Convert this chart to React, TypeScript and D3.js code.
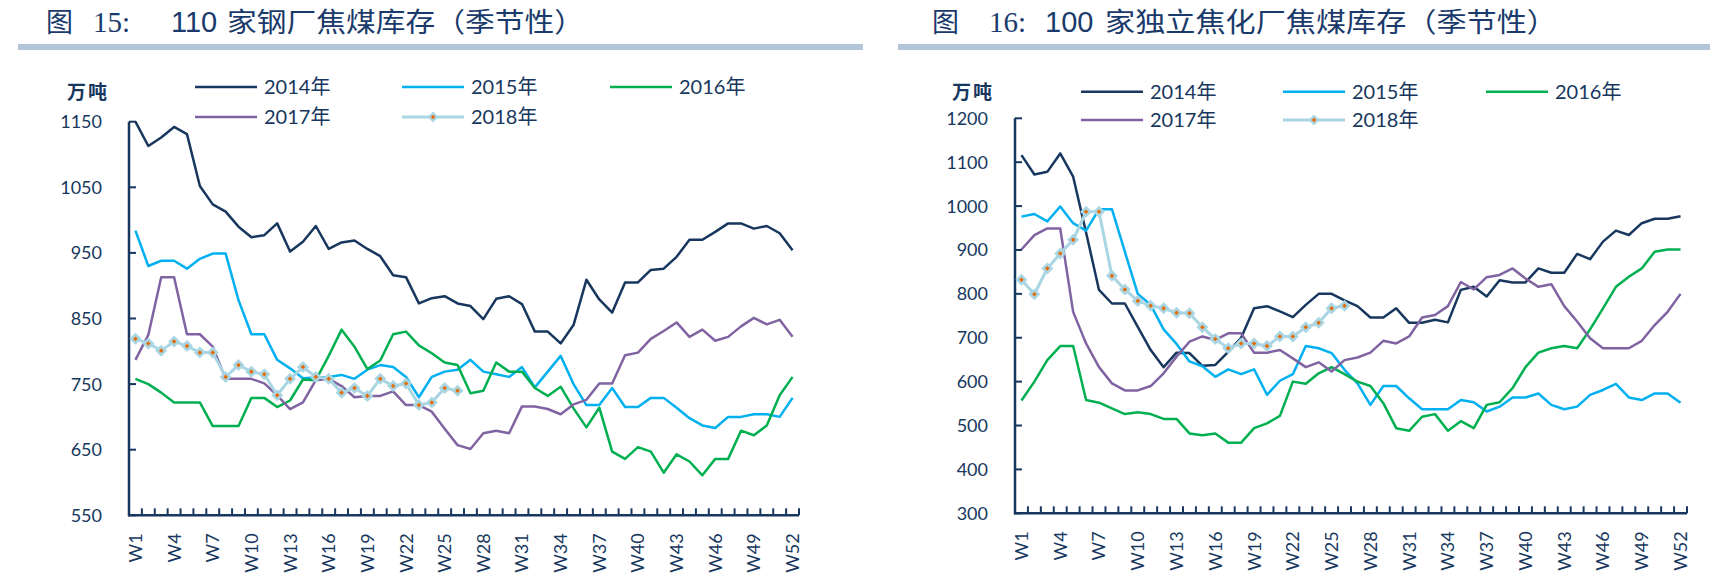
import React from "react";
import * as d3 from "d3";

// categories
const WEEKS = d3.range(1, 53).map((i) => `W${i}`);
const YEARS = ["2014年", "2015年", "2016年", "2017年", "2018年"];
const COLORS = ["#17375E", "#00B0F0", "#00B050", "#8064A2", "#A9D6E2"];

// 图15: 110家钢厂焦煤库存 (万吨)
const steel2014 = [1150, 1113, 1126, 1142, 1131, 1052, 1024, 1013, 990, 974, 977, 995, 952, 967, 991, 956, 966, 969, 956, 945, 916, 913, 873, 881, 884, 873, 869, 849, 880, 884, 872, 830, 830, 812, 840, 909, 879, 859, 905, 905, 924, 926, 944, 970, 970, 982, 995, 995, 987, 991, 980, 954];
const steel2015 = [984, 930, 938, 938, 926, 941, 949, 949, 878, 826, 826, 787, 774, 759, 760, 761, 764, 758, 772, 779, 776, 761, 730, 761, 769, 772, 787, 769, 765, 761, 776, 745, 769, 793, 750, 718, 718, 744, 715, 715, 729, 729, 714, 698, 687, 683, 700, 700, 704, 704, 700, 729];
const steel2016 = [758, 750, 737, 722, 722, 722, 686, 686, 686, 729, 729, 715, 725, 757, 756, 793, 833, 807, 773, 786, 826, 830, 809, 797, 783, 779, 736, 740, 783, 769, 769, 744, 732, 746, 713, 684, 714, 647, 636, 654, 647, 615, 643, 632, 611, 636, 636, 679, 672, 687, 733, 761];
const steel2017 = [787, 825, 913, 913, 826, 826, 807, 758, 758, 758, 751, 733, 712, 722, 756, 758, 747, 730, 732, 732, 739, 718, 718, 708, 682, 657, 651, 675, 679, 675, 716, 716, 712, 704, 719, 726, 751, 751, 794, 798, 819, 831, 844, 822, 833, 816, 822, 838, 851, 841, 848, 822];
const steel2018 = [819, 812, 801, 815, 808, 798, 798, 761, 779, 769, 765, 733, 758, 776, 761, 758, 737, 744, 732, 758, 747, 751, 718, 722, 744, 740];
const steelTicks = [550, 650, 750, 850, 950, 1050, 1150];

// 图16: 100家独立焦化厂焦煤库存 (万吨)
const coke2014 = [1116, 1072, 1078, 1120, 1067, 940, 809, 778, 778, 725, 672, 633, 666, 665, 636, 638, 668, 700, 767, 772, 760, 747, 775, 800, 800, 785, 772, 746, 746, 767, 734, 734, 741, 735, 809, 816, 794, 831, 826, 826, 858, 848, 848, 891, 879, 919, 944, 934, 961, 971, 971, 977];
const coke2015 = [976, 982, 965, 999, 961, 944, 993, 993, 896, 800, 775, 719, 686, 646, 635, 611, 628, 617, 628, 570, 602, 617, 681, 676, 665, 627, 596, 547, 590, 590, 562, 537, 537, 537, 558, 553, 532, 543, 564, 564, 573, 547, 537, 543, 570, 581, 595, 564, 558, 573, 573, 552];
const coke2016 = [557, 600, 649, 681, 681, 558, 552, 539, 526, 530, 526, 515, 515, 482, 478, 482, 461, 461, 494, 505, 522, 600, 595, 619, 633, 617, 600, 590, 551, 494, 488, 520, 526, 488, 510, 494, 547, 553, 585, 633, 666, 676, 681, 676, 719, 767, 816, 839, 858, 896, 901, 901];
const coke2017 = [901, 934, 949, 949, 759, 687, 633, 596, 580, 580, 590, 619, 657, 691, 703, 695, 710, 710, 666, 666, 672, 653, 633, 644, 623, 649, 655, 666, 693, 687, 703, 746, 752, 772, 827, 810, 838, 843, 858, 835, 816, 822, 772, 737, 699, 676, 676, 676, 693, 729, 759, 800];
const coke2018 = [832, 799, 858, 892, 923, 987, 987, 841, 810, 784, 773, 767, 757, 756, 724, 697, 676, 687, 687, 681, 703, 703, 724, 734, 767, 773];
const cokeTicks = [300, 400, 500, 600, 700, 800, 900, 1000, 1100, 1200];

const NAVY = "#17375E";
const FONT = "Lato, 'Noto Sans CJK SC', sans-serif";

type ChartProps = {
  fig: string;
  num: string;
  rest: string;
  titleX: [number, number, number, number];
  restWidth: number;
  bar: [number, number];
  series: number[][];
  ticks: number[];
  x0: number;
  x1: number;
  yTop: number;
  yBottom: number;
  unitX: number;
  labelX: number;
  legendCols: number[];
  legendRows: number[];
};

function Chart(p: ChartProps) {
  const x = d3.scaleBand<string>().domain(WEEKS).range([p.x0, p.x1]).padding(0);
  const y = d3
    .scaleLinear()
    .domain([p.ticks[0], p.ticks[p.ticks.length - 1]])
    .range([p.yBottom, p.yTop]);
  const bw = x.bandwidth();
  const cx = (i: number) => (x(WEEKS[i]) as number) + bw / 2;
  const line = d3
    .line<number>()
    .x((_, i) => cx(i))
    .y((d) => y(d));

  const legend = YEARS.map((name, i) => ({
    name,
    color: COLORS[i],
    lx: p.legendCols[i % 3],
    ly: p.legendRows[Math.floor(i / 3)],
  }));

  return (
    <g>
      {/* title */}
      <g fill="#1A3A6B" fontSize={27}>
        <text x={p.titleX[0]} y={32} fontFamily="'Liberation Serif', 'Noto Sans CJK SC', serif">图</text>
        <text x={p.titleX[1]} y={32} fontFamily="'Liberation Serif', serif" fontSize={29}>{p.fig}</text>
        <text x={p.titleX[2]} y={32} fontFamily="'Liberation Sans', sans-serif" fontSize={29}>{p.num}</text>
        <text
          x={p.titleX[3]}
          y={32}
          fontFamily="'Noto Sans CJK SC', sans-serif"
          textLength={p.restWidth}
          lengthAdjust="spacingAndGlyphs"
        >
          {p.rest}
        </text>
      </g>
      <rect x={p.bar[0]} y={44} width={p.bar[1] - p.bar[0]} height={6} fill="#B3C6D9" />

      {/* unit */}
      <text x={p.unitX} y={92} dy="0.35em" fontFamily="'Noto Sans CJK SC', sans-serif" fontWeight={700} fontSize={19} fill={NAVY} letterSpacing={2}>
        万吨
      </text>

      {/* legend */}
      {legend.map((l, i) => (
        <g key={l.name}>
          <line x1={l.lx} x2={l.lx + 62} y1={l.ly} y2={l.ly} stroke={l.color} strokeWidth={i === 4 ? 3 : 2.5} />
          {i === 4 && (
            <g transform={`translate(${l.lx + 31},${l.ly})`}>
              <path d="M0,-5.5L5.5,0L0,5.5L-5.5,0Z" fill={l.color} />
              <path d="M0,-2.3L2.3,0L0,2.3L-2.3,0Z" fill="#E46C0A" />
            </g>
          )}
          <text x={l.lx + 69} y={l.ly} dy="0.36em" fontFamily={FONT} fontSize={20} fill={NAVY}>
            {l.name}
          </text>
        </g>
      ))}

      {/* y axis */}
      {p.ticks.map((t) => (
        <g key={t}>
          <line x1={p.x0} x2={p.x0 + 7} y1={y(t)} y2={y(t)} stroke={NAVY} strokeWidth={2} />
          <text x={p.labelX} y={y(t)} dy="0.36em" textAnchor="end" fontFamily={FONT} fontSize={18} fill={NAVY}>
            {t}
          </text>
        </g>
      ))}
      <line x1={p.x0} x2={p.x0} y1={p.yTop} y2={p.yBottom + 1} stroke={NAVY} strokeWidth={2.5} />

      {/* x axis */}
      {WEEKS.map((w) => {
        const bx = (x(w) as number) + bw;
        return <line key={w} x1={bx} x2={bx} y1={p.yBottom} y2={p.yBottom - 7} stroke={NAVY} strokeWidth={2} />;
      })}
      <line x1={p.x0 - 1} x2={p.x1} y1={p.yBottom} y2={p.yBottom} stroke={NAVY} strokeWidth={2.5} />
      {WEEKS.filter((_, i) => i % 3 === 0).map((w) => (
        <text
          key={w}
          transform={`translate(${(x(w) as number) + bw / 2},${p.yBottom + 18}) rotate(-90)`}
          textAnchor="end"
          dy="0.36em"
          fontFamily={FONT}
          fontSize={18}
          fill={NAVY}
        >
          {w}
        </text>
      ))}

      {/* series */}
      {p.series.map((s, i) => (
        <path
          key={YEARS[i]}
          d={line(s) as string}
          fill="none"
          stroke={COLORS[i]}
          strokeWidth={i === 4 ? 3 : 2.5}
          strokeLinejoin="round"
        />
      ))}
      {p.series[4].map((v, i) => (
        <g key={i} transform={`translate(${cx(i)},${y(v)})`}>
          <path d="M0,-6L6,0L0,6L-6,0Z" fill={COLORS[4]} />
          <path d="M0,-2.3L2.3,0L0,2.3L-2.3,0Z" fill="#E46C0A" />
        </g>
      ))}
    </g>
  );
}

export default function App() {
  return (
    <svg
      width={1710}
      height={575}
      viewBox="0 0 1710 575"
      style={{ position: "absolute", left: 0, top: 0, background: "#fff", display: "block" }}
    >
      <rect width={1710} height={575} fill="#fff" />
      <Chart
        fig="15:"
        num="110"
        rest="家钢厂焦煤库存（季节性）"
        titleX={[46, 93, 171, 227]}
        restWidth={357}
        bar={[18, 863]}
        series={[steel2014, steel2015, steel2016, steel2017, steel2018]}
        ticks={steelTicks}
        x0={129}
        x1={799}
        yTop={121.7}
        yBottom={515.3}
        unitX={67}
        labelX={102}
        legendCols={[195, 402, 610]}
        legendRows={[87, 117]}
      />
      <Chart
        fig="16:"
        num="100"
        rest="家独立焦化厂焦煤库存（季节性）"
        titleX={[932, 989, 1045, 1105]}
        restWidth={452}
        bar={[898, 1710]}
        series={[coke2014, coke2015, coke2016, coke2017, coke2018]}
        ticks={cokeTicks}
        x0={1015}
        x1={1687}
        yTop={118.3}
        yBottom={513.3}
        unitX={952}
        labelX={988}
        legendCols={[1081, 1283, 1486]}
        legendRows={[91.7, 120]}
      />
    </svg>
  );
}
